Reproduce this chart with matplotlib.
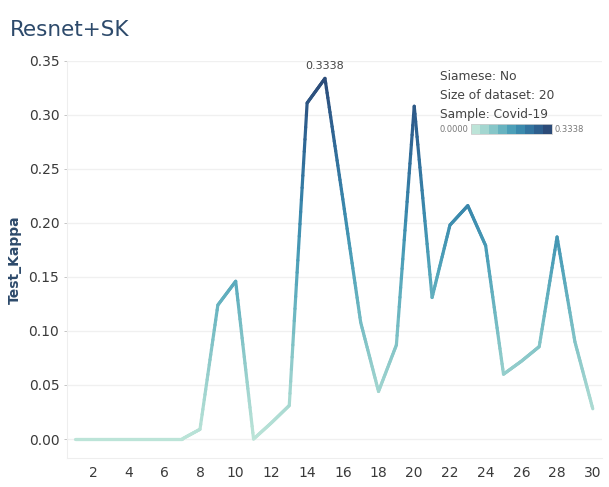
import numpy as np
import matplotlib.pyplot as plt
from matplotlib.collections import LineCollection
from matplotlib.colors import LinearSegmentedColormap

# Test kappa per epoch
epochs = list(range(1, 31))
kappa = [0.0, 0.0, 0.0, 0.0, 0.0, 0.0, 0.0, 0.009, 0.124, 0.146,
         0.0, 0.015, 0.031, 0.311, 0.3338, 0.222, 0.108, 0.044, 0.087, 0.308,
         0.131, 0.198, 0.216, 0.179, 0.060, 0.072, 0.0855, 0.187, 0.090, 0.028]

info_lines = ["Siamese: No", "Size of dataset: 20", "Sample: Covid-19"]

blue_teal = ["#bce4d8", "#a3d6d0", "#86c6c8", "#67b3c0", "#4c9fb8",
             "#3b8aad", "#33749f", "#2e5f8e", "#2c4b78"]
cmap = LinearSegmentedColormap.from_list("blue_teal", blue_teal)

fig = plt.figure(figsize=(6.09, 4.87), dpi=100)
ax = fig.add_axes([0.110, 0.0595, 0.878, 0.8155])

x = np.array(epochs, dtype=float)
y = np.array(kappa)
vmax = y.max()

# split each segment into short pieces so the colour follows the value
pts_x, pts_y = [], []
for i in range(len(x) - 1):
    t = np.linspace(0, 1, 25, endpoint=False)
    pts_x.extend(x[i] + (x[i + 1] - x[i]) * t)
    pts_y.extend(y[i] + (y[i + 1] - y[i]) * t)
pts_x.append(x[-1]); pts_y.append(y[-1])
pts = np.column_stack([pts_x, pts_y]).reshape(-1, 1, 2)
segs = np.concatenate([pts[:-1], pts[1:]], axis=1)
mid = (np.array(pts_y[:-1]) + np.array(pts_y[1:])) / 2
lc = LineCollection(segs, cmap=cmap, norm=plt.Normalize(0, vmax),
                    linewidth=2.3, capstyle="round", joinstyle="round")
lc.set_array(mid)
ax.add_collection(lc)

ax.set_xlim(0.55, 30.5)
ax.set_ylim(-0.0176, 0.35)
ax.set_xticks(range(2, 31, 2))
ax.set_yticks(np.arange(0, 0.351, 0.05))
ax.set_yticklabels([f"{v:.2f}" for v in np.arange(0, 0.351, 0.05)])
ax.tick_params(axis="both", labelsize=10, colors="#333333", length=2,
               width=0.6)
ax.tick_params(axis="x", length=0, pad=6)
for lbl in ax.get_xticklabels() + ax.get_yticklabels():
    lbl.set_color("#3a3a3a")
ax.grid(axis="y", color="#f0f0f0", linewidth=1)
ax.set_axisbelow(True)
for s in ["top", "right"]:
    ax.spines[s].set_visible(False)
ax.spines["left"].set_color("#eeeeee")
ax.spines["bottom"].set_color("#eeeeee")
ax.tick_params(axis="y", color="#bbbbbb")

ax.set_ylabel("Test_Kappa", fontsize=10, fontweight="bold", color="#2d4a6b")
ax.yaxis.set_label_coords(-0.084, 0.5)

imax = int(np.argmax(y))
ax.annotate(f"{y[imax]:.4f}", (x[imax], y[imax]), xytext=(0, 5),
            textcoords="offset points", ha="center", va="bottom",
            fontsize=8, color="#444444")

fig.text(0.016, 0.938, "Resnet+SK", fontsize=15.5, color="#2d4a6b",
         va="center", ha="left")

for k, line in enumerate(info_lines):
    fig.text(0.722, 0.842 - k * 0.039, line, fontsize=8.8, color="#444444",
             va="center", ha="left")

# discrete colour legend
n_steps = len(blue_teal)
bx0, bx1, by0, by1 = 471 / 609, 552 / 609, 1 - 134 / 487, 1 - 124 / 487
w = (bx1 - bx0) / n_steps
for k, c in enumerate(blue_teal):
    fig.patches.append(plt.Rectangle((bx0 + k * w, by0), w, by1 - by0,
                                     transform=fig.transFigure,
                                     facecolor=c, edgecolor="none"))
fig.patches.append(plt.Rectangle((bx0, by0), bx1 - bx0, by1 - by0,
                                 transform=fig.transFigure, fill=False,
                                 edgecolor="#cccccc", linewidth=0.6))
fig.text(bx0 - 0.004, (by0 + by1) / 2, "0.0000", fontsize=6, color="#777777",
         ha="right", va="center")
fig.text(bx1 + 0.004, (by0 + by1) / 2, f"{vmax:.4f}", fontsize=6,
         color="#777777", ha="left", va="center")

fig.savefig("out.png", dpi=100)
